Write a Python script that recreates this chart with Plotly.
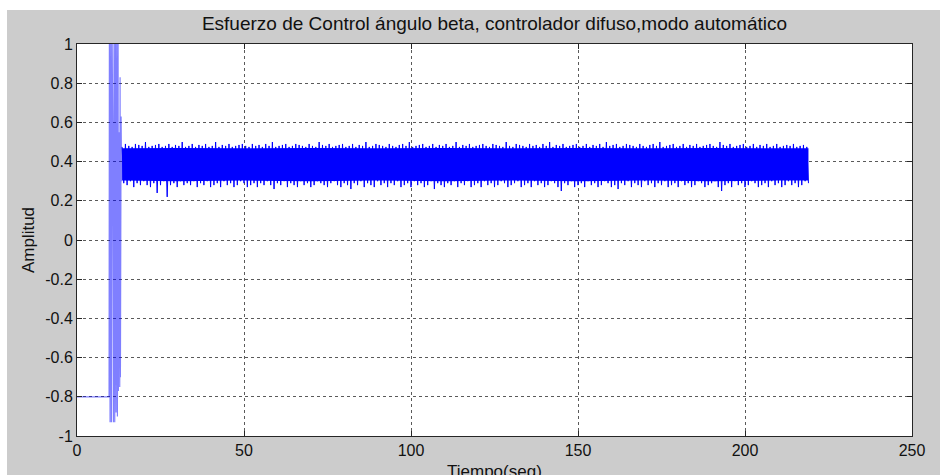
import plotly.graph_objects as go

# ---------------- data ----------------
title_text = "Esfuerzo de Control ángulo beta, controlador difuso,modo automático"
x_label = "Tiempo(seg)"
y_label = "Amplitud"

x_tickvals = [0, 50, 100, 150, 200, 250]
x_ticktext = ["0", "50", "100", "150", "200", "250"]
y_tickvals = [-1, -0.8, -0.6, -0.4, -0.2, 0, 0.2, 0.4, 0.6, 0.8, 1]
y_ticktext = ["-1", "-0.8", "-0.6", "-0.4", "-0.2", "0", "0.2", "0.4", "0.6", "0.8", "1"]

# initial transient (seconds, amplitude)
trans_t = [0, 9.6, 9.7, 9.9, 10.1, 10.3, 10.5, 10.7, 10.9, 11.1, 11.3, 11.5, 11.7,
           11.9, 12.1, 12.3, 12.4, 12.6, 12.8, 12.9, 13.0, 13.2, 13.35, 13.5]
trans_y = [-0.8, -0.8, 1.1, -0.93, 1.1, -0.93, 1.1, 0.55, -0.93, 1.1, -0.93, 1.1, -0.88,
           1.1, -0.9, 1.1, -0.77, 0.55, -0.75, 0.83, -0.7, 0.63, 0.3, 0.47]

# solid core of the steady-state band (read every 20 s)
core_t = [13.5, 30, 50, 70, 90, 110, 130, 150, 170, 190, 210, 219]
core_top = [0.468, 0.47, 0.468, 0.47, 0.468, 0.47, 0.468, 0.47, 0.468, 0.47, 0.468, 0.468]
core_bottom = [0.303, 0.30, 0.303, 0.30, 0.303, 0.30, 0.303, 0.30, 0.303, 0.30, 0.303, 0.303]

# steady-state noisy band: peaks (every 1 s from 13.5 s) and troughs (every 1 s from 14.0 s)
band_peak_start = 13.5
band_trough_start = 14.0
band_step = 1.0
band_peaks = [
    0.475, 0.49, 0.48, 0.475, 0.49, 0.485, 0.48, 0.50, 0.475, 0.48, 0.485, 0.49, 0.475, 0.48, 0.49, 0.475, 0.485, 0.48, 0.50, 0.475,
    0.48, 0.49, 0.475, 0.485, 0.48, 0.49, 0.475, 0.48, 0.50, 0.475, 0.485, 0.48, 0.49, 0.475, 0.48, 0.485, 0.49, 0.48, 0.475, 0.49,
    0.48, 0.485, 0.475, 0.49, 0.48, 0.50, 0.475, 0.48, 0.485, 0.49, 0.475, 0.48, 0.49, 0.485, 0.48, 0.475, 0.49, 0.48, 0.475, 0.50,
    0.485, 0.48, 0.49, 0.475, 0.48, 0.485, 0.49, 0.475, 0.48, 0.49, 0.475, 0.485, 0.48, 0.50, 0.475, 0.48, 0.49, 0.485, 0.48, 0.475,
    0.49, 0.48, 0.475, 0.485, 0.49, 0.48, 0.50, 0.475, 0.48, 0.485, 0.49, 0.475, 0.48, 0.49, 0.475, 0.485, 0.48, 0.49, 0.475, 0.48,
    0.50, 0.475, 0.485, 0.48, 0.49, 0.475, 0.48, 0.485, 0.49, 0.48, 0.475, 0.49, 0.485, 0.48, 0.475, 0.50, 0.48, 0.475, 0.49, 0.485,
    0.48, 0.475, 0.49, 0.48, 0.485, 0.475, 0.49, 0.48, 0.50, 0.475, 0.485, 0.48, 0.49, 0.475, 0.48, 0.485, 0.49, 0.475, 0.48, 0.49,
    0.475, 0.485, 0.48, 0.49, 0.475, 0.50, 0.48, 0.485, 0.49, 0.475, 0.48, 0.49, 0.485, 0.48, 0.475, 0.49, 0.48, 0.475, 0.485, 0.49,
    0.48, 0.50, 0.475, 0.48, 0.485, 0.49, 0.475, 0.48, 0.49, 0.475, 0.485, 0.48, 0.49, 0.475, 0.48, 0.485, 0.49, 0.48, 0.475, 0.50,
    0.485, 0.48, 0.49, 0.475, 0.48, 0.485, 0.49, 0.475, 0.48, 0.49, 0.475, 0.485, 0.48, 0.49, 0.475, 0.48, 0.49, 0.475, 0.48, 0.485,
    0.48, 0.49, 0.475, 0.48, 0.485, 0.475,
]
band_troughs = [
    0.29, 0.28, 0.30, 0.27, 0.29, 0.28, 0.30, 0.28, 0.27, 0.29, 0.24, 0.28, 0.30, 0.22, 0.28, 0.29, 0.27, 0.30, 0.28, 0.29,
    0.28, 0.30, 0.27, 0.29, 0.28, 0.30, 0.27, 0.28, 0.29, 0.27, 0.30, 0.28, 0.29, 0.27, 0.28, 0.30, 0.29, 0.27, 0.28, 0.29,
    0.27, 0.29, 0.28, 0.30, 0.28, 0.26, 0.29, 0.28, 0.30, 0.27, 0.29, 0.28, 0.27, 0.30, 0.28, 0.29, 0.27, 0.28, 0.30, 0.29,
    0.28, 0.27, 0.29, 0.30, 0.28, 0.27, 0.29, 0.28, 0.26, 0.29, 0.28, 0.30, 0.27, 0.29, 0.28, 0.27, 0.30, 0.28, 0.29, 0.27,
    0.29, 0.28, 0.30, 0.27, 0.28, 0.29, 0.27, 0.30, 0.28, 0.29, 0.27, 0.28, 0.30, 0.26, 0.29, 0.28, 0.27, 0.29, 0.28, 0.30,
    0.27, 0.29, 0.28, 0.30, 0.27, 0.28, 0.29, 0.27, 0.30, 0.28, 0.29, 0.27, 0.28, 0.30, 0.29, 0.27, 0.28, 0.29, 0.30, 0.27,
    0.28, 0.29, 0.27, 0.30, 0.28, 0.29, 0.27, 0.28, 0.30, 0.29, 0.27, 0.25, 0.29, 0.28, 0.30, 0.27, 0.28, 0.29, 0.27, 0.30,
    0.28, 0.29, 0.27, 0.28, 0.30, 0.29, 0.27, 0.28, 0.26, 0.29, 0.28, 0.30, 0.27, 0.29, 0.28, 0.27, 0.30, 0.28, 0.29, 0.27,
    0.29, 0.28, 0.30, 0.27, 0.28, 0.29, 0.27, 0.30, 0.28, 0.29, 0.27, 0.28, 0.30, 0.29, 0.27, 0.28, 0.29, 0.30, 0.27, 0.25,
    0.28, 0.29, 0.27, 0.30, 0.28, 0.29, 0.27, 0.28, 0.30, 0.29, 0.27, 0.28, 0.29, 0.27, 0.30, 0.28, 0.29, 0.27, 0.28, 0.30,
    0.28, 0.29, 0.27, 0.28, 0.30, 0.29,
]

# ---------------- build band (interleave peaks / troughs) ----------------
band_x, band_y = [], []
for i in range(len(band_peaks)):
    band_x.append(band_peak_start + i * band_step)
    band_y.append(band_peaks[i])
    if i < len(band_troughs):
        band_x.append(band_trough_start + i * band_step)
        band_y.append(band_troughs[i])

FONT = "Liberation Sans, Arial, Helvetica, sans-serif"
GRAY_BG = "#cccccc"
BLUE = "#0000ff"

fig = go.Figure()
fig.add_trace(go.Scatter(x=trans_t, y=trans_y, mode="lines",
                         line=dict(color="rgba(0,0,255,0.5)", width=1.2),
                         hoverinfo="skip", showlegend=False))
fig.add_trace(go.Scatter(x=core_t, y=core_bottom, mode="lines",
                         line=dict(color=BLUE, width=0), hoverinfo="skip", showlegend=False))
fig.add_trace(go.Scatter(x=core_t, y=core_top, mode="lines", fill="tonexty", fillcolor=BLUE,
                         line=dict(color=BLUE, width=0), hoverinfo="skip", showlegend=False))
fig.add_trace(go.Scatter(x=band_x, y=band_y, mode="lines",
                         line=dict(color=BLUE, width=1.0),
                         hoverinfo="skip", showlegend=False))

axis_common = dict(
    showline=True, linecolor="#262626", linewidth=1, mirror="ticks",
    ticks="inside", ticklen=5, tickcolor="#262626", tickwidth=1,
    showgrid=True, gridcolor="#5a5a5a", griddash="dot", gridwidth=1,
    zeroline=False, automargin=False,
    tickfont=dict(family=FONT, size=16, color="#111111"),
)

fig.update_layout(
    width=940, height=475,
    paper_bgcolor=GRAY_BG, plot_bgcolor="white",
    margin=dict(l=77, r=28, t=44, b=39, pad=0),
    title=dict(text=title_text, x=(77 + 912) / 2 / 940, xanchor="center",
               y=1 - 23 / 475, yanchor="middle",
               font=dict(family=FONT, size=19, color="#111111")),
    xaxis=dict(range=[0, 250], tickvals=x_tickvals, ticktext=x_ticktext, **axis_common),
    yaxis=dict(range=[-1, 1], tickvals=y_tickvals, ticktext=y_ticktext,
               title=dict(text=y_label, font=dict(family=FONT, size=17, color="#111111"), standoff=6),
               **axis_common),
    showlegend=False,
    annotations=[dict(text=x_label, xref="paper", yref="paper", x=0.5, y=(436 - 460) / 392,
                      xanchor="center", yanchor="top", showarrow=False,
                      font=dict(family=FONT, size=17, color="#111111"))],
    shapes=[
        dict(type="rect", xref="paper", yref="paper", layer="below",
             x0=-0.1, x1=1.1, y0=(436 - 10) / 392, y1=1.2,
             fillcolor="white", line=dict(width=0)),
        dict(type="rect", xref="paper", yref="paper", layer="below",
             x0=-0.1, x1=(7 - 77) / 835, y0=-0.2, y1=1.2,
             fillcolor="white", line=dict(width=0)),
    ],
)

fig.write_html("out.html", config={"displayModeBar": False},
               post_script="document.body.style.margin='0';document.body.style.overflow='hidden';")
